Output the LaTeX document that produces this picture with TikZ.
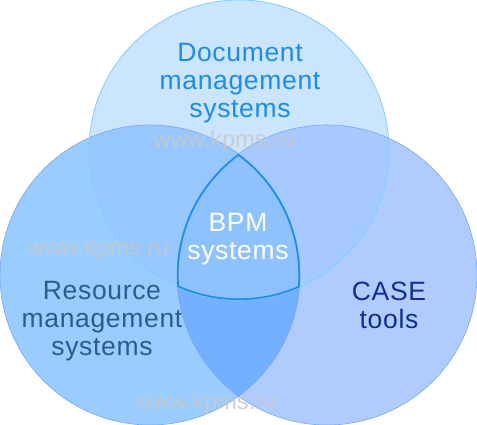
\documentclass[tikz,border=0pt]{standalone}
\usepackage{fontspec}
\setmainfont{Liberation Sans}
\newfontfamily\labelfont[LetterSpace=2.5]{Liberation Sans}
\usepackage{xcolor}
\usetikzlibrary{positioning}

\definecolor{topfill}{RGB}{204,229,255}
\definecolor{leftfill}{RGB}{153,204,255}
\definecolor{rightfill}{RGB}{176,204,255}
\definecolor{tlfill}{RGB}{150,199,255}
\definecolor{trfill}{RGB}{166,202,255}
\definecolor{lrfill}{RGB}{115,176,255}
\definecolor{bpmfill}{RGB}{141,194,255}
\definecolor{topedge}{RGB}{125,206,255}
\definecolor{sideedge}{RGB}{120,165,240}
\definecolor{bpmedge}{RGB}{20,140,240}
\definecolor{doctext}{RGB}{25,140,240}
\definecolor{restext}{RGB}{45,90,145}
\definecolor{casetext}{RGB}{15,45,150}
\definecolor{wmark}{RGB}{200,200,200}

\begin{document}
\begin{tikzpicture}[
  x=1pt, y=-1pt,
  every node/.style={font=\labelfont\fontsize{26.5}{28}\selectfont, align=center, inner sep=0pt},
  wmarktext/.style={font=\fontsize{23.7}{26}\selectfont, text=wmark, text opacity=0.85},
]
\useasboundingbox (0,0) rectangle (477,425);

%% ── Circle centres ───────────────────────────────────────────────────────
\coordinate (ctop)   at (239,150);
\coordinate (cleft)  at (150,275);
\coordinate (cright) at (327,275);
\def\topc{(ctop) circle[radius=150pt]}
\def\leftc{(cleft) circle[radius=150pt]}
\def\rightc{(cright) circle[radius=150pt]}

%% ── Single regions ───────────────────────────────────────────────────────
\fill[leftfill]  \leftc;
\fill[rightfill] \rightc;
\fill[topfill]   \topc;

%% ── Pairwise overlaps ────────────────────────────────────────────────────
\begin{scope}
  \clip \leftc;
  \fill[lrfill] \rightc;
\end{scope}
\begin{scope}
  \clip \topc;
  \fill[tlfill] \leftc;
  \fill[trfill] \rightc;
\end{scope}

%% ── Triple overlap (BPM) ─────────────────────────────────────────────────
\begin{scope}
  \clip \topc;
  \clip \leftc;
  \fill[bpmfill] \rightc;
\end{scope}

%% ── Circle outlines ──────────────────────────────────────────────────────
\draw[sideedge, line width=0.6pt] \leftc;
\draw[sideedge, line width=0.6pt] \rightc;
\draw[topedge, line width=0.8pt] \topc;

\begin{scope}
  \clip \topc;
  \clip \leftc;
  \clip \rightc;
  \draw[bpmedge, line width=3.2pt] \topc \leftc \rightc;
\end{scope}

%% ── Watermarks ───────────────────────────────────────────────────────────
\node[wmarktext] (wmtop)    at (224,141) {www.kpms.ru};
\node[wmarktext] (wmleft)   at (98,249)  {www.kpms.ru};
\node[wmarktext] (wmbottom) at (206,403) {www.kpms.ru};

%% ── Labels ───────────────────────────────────────────────────────────────
\node[text=doctext]  (doc)  at (240,83)  {Document\\management\\systems};
\node[text=white]    (bpm)  at (238,239) {BPM\\systems};
\node[text=restext]  (res)  at (102,321) {Resource\\management\\systems};
\node[text=casetext] (case) at (389,305) {CASE\\tools};

\end{tikzpicture}
\end{document}
